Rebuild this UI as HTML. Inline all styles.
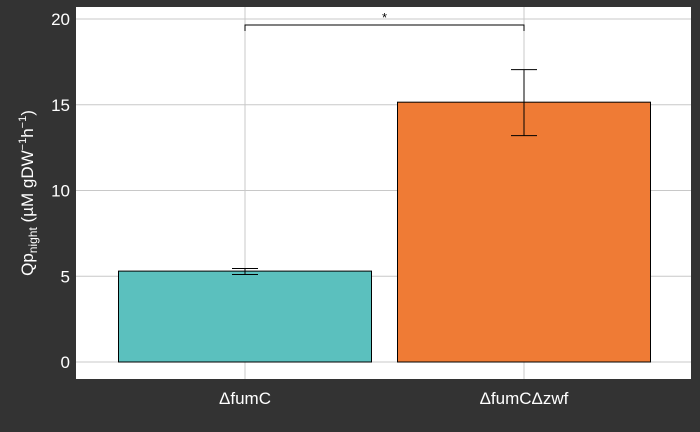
<!DOCTYPE html>
<html><head><meta charset="utf-8"><style>
html,body{margin:0;padding:0;background:#333333;}
svg{display:block;font-family:"Liberation Sans",sans-serif;}
</style></head><body>
<svg id="chart" width="700" height="432">
<rect x="0" y="0" width="700" height="432" fill="#333333"/>
<rect x="76" y="7" width="615" height="372" fill="#ffffff"/>
<g id="grid"></g><g id="bars"></g><g id="yticks"></g><g id="xticks"></g><g id="sig"></g>
<text transform="translate(33,193) rotate(-90)" text-anchor="middle" fill="#ffffff" font-size="17">Qp<tspan font-size="12" dy="4">night</tspan><tspan dy="-4"> (µM gDW</tspan><tspan font-size="11" dy="-7">−1</tspan><tspan dy="7">h</tspan><tspan font-size="11" dy="-7">−1</tspan><tspan dy="7">)</tspan></text>
</svg>
<script>
const categories=["\u0394fumC","\u0394fumC\u0394zwf"];
const values=[5.3,15.15];
const errLow=[5.1,13.2];
const errHigh=[5.45,17.05];
const yTicks=[0,5,10,15,20];
const colors=["#5bc0be","#ef7b35"];
const sigLevel=19.65, sigLabel="*";
const NS="http://www.w3.org/2000/svg";
const y=v=>362-v*17.15;
const xc=i=>245+i*279;
const bw=253;
function mk(t,a,p){const e=document.createElementNS(NS,t);for(const k in a)e.setAttribute(k,a[k]);p.appendChild(e);return e;}
const grid=document.getElementById('grid'),bars=document.getElementById('bars'),yt=document.getElementById('yticks'),xt=document.getElementById('xticks'),sig=document.getElementById('sig');
yTicks.forEach(t=>{
 const l=mk('line',{x1:76,x2:691,y1:y(t),y2:y(t),stroke:'#c8c8c8','stroke-width':1},grid);
 
 
 const tx=mk('text',{x:70,y:y(t)+6,'text-anchor':'end',fill:'#fff','font-size':17},yt);
 tx.textContent=t;
 
 
});
categories.forEach((c,i)=>{
 const g=mk('line',{x1:xc(i),x2:xc(i),y1:7,y2:379,stroke:'#c8c8c8','stroke-width':1},grid);
 
 
 const r=mk('rect',{x:xc(i)-bw/2,y:y(values[i]),width:bw,height:y(0)-y(values[i]),fill:colors[i],stroke:'#000','stroke-width':1},bars);
 
 
 const e=mk('path',{d:`M${xc(i)-13},${y(errHigh[i])}H${xc(i)+13}M${xc(i)},${y(errHigh[i])}V${y(errLow[i])}M${xc(i)-13},${y(errLow[i])}H${xc(i)+13}`,stroke:'#000',fill:'none','stroke-width':1},bars);
 
 
 const t=mk('text',{x:xc(i),y:404,'text-anchor':'middle',fill:'#fff','font-size':17},xt);
 t.textContent=c;
 
 
});
const b=mk('path',{d:`M${xc(0)},${y(sigLevel)+6}V${y(sigLevel)}H${xc(1)}V${y(sigLevel)+6}`,stroke:'#000',fill:'none','stroke-width':1},sig);


const s=mk('text',{x:(xc(0)+xc(1))/2,y:y(sigLevel)-3,'text-anchor':'middle',fill:'#000','font-size':13},sig);
s.textContent=sigLabel;


</script>
</body></html>
